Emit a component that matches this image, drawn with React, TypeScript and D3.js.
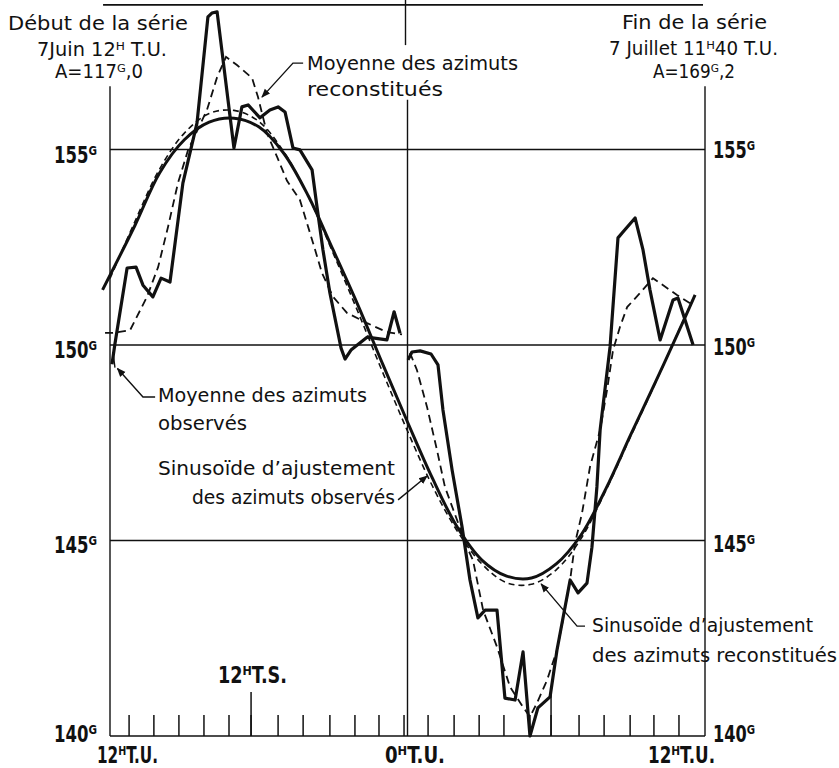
import React from "react";
import * as d3 from "d3";

// hours after 7 June 12h T.U. (0..24) , azimuth in grades
const observedDay: [number, number][] = [
  [0.08, 149.51], [0.2, 150.03], [0.69, 151.97], [1.05, 151.99], [1.33, 151.53], [1.73, 151.23],
  [2.06, 151.71], [2.42, 151.61], [2.94, 154.14], [3.51, 155.68], [3.95, 158.39], [4.11, 158.49],
  [4.32, 158.52], [5.0, 155.04], [5.32, 156.09], [5.57, 156.14], [6.05, 155.81], [6.45, 156.01],
  [6.78, 156.09], [7.06, 155.96], [7.38, 155.04], [7.66, 154.99], [8.15, 154.48], [8.35, 153.53],
  [8.59, 152.43], [8.87, 151.33], [9.32, 149.92], [9.48, 149.64], [9.72, 149.87], [10.37, 150.2],
  [11.17, 150.13], [11.46, 150.85], [11.7, 150.3],
];
const observedNight: [number, number][] = [
  [12.02, 149.62], [12.18, 149.82], [12.51, 149.85], [12.95, 149.77], [13.23, 149.49], [13.43, 148.34],
  [13.8, 146.8], [14.2, 145.35], [14.52, 143.99], [14.84, 143.02], [15.13, 143.22], [15.61, 143.22],
  [15.93, 140.97], [16.34, 140.92], [16.66, 142.15], [16.94, 140.0], [17.26, 140.72], [17.75, 141.0],
  [18.03, 142.2], [18.56, 143.99], [18.88, 143.66], [19.24, 143.91], [19.44, 144.83], [19.64, 146.37],
  [19.77, 147.83], [20.17, 149.95], [20.49, 152.74], [20.69, 152.89], [21.18, 153.25], [21.5, 152.43],
  [21.78, 151.41], [22.19, 150.13], [22.71, 151.15], [22.91, 151.2], [23.52, 150.0],
];
const reconDay: [number, number][] = [
  [-0.2, 150.31], [0.12, 150.31], [0.81, 150.38], [1.49, 151.23], [1.94, 151.99], [2.34, 153.02],
  [2.74, 154.14], [3.15, 154.99], [3.91, 156.01], [4.32, 156.85], [4.68, 157.37], [5.12, 157.16],
  [5.73, 156.83], [5.97, 156.34], [6.33, 155.42], [6.74, 154.81], [7.14, 154.2], [7.66, 153.71],
  [8.19, 152.61], [8.55, 151.84], [9.0, 151.23], [9.56, 150.82], [10.37, 150.56], [11.17, 150.33],
  [11.78, 150.27],
];
const reconNight: [number, number][] = [
  [12.1, 149.8], [12.38, 149.36], [12.79, 148.41], [13.19, 147.31], [13.51, 146.37], [14.0, 145.52],
  [14.4, 144.83], [14.64, 144.5], [15.05, 143.22], [15.61, 142.28], [16.14, 141.25], [16.66, 140.74],
  [16.94, 140.49], [17.22, 140.84], [17.63, 141.43], [18.03, 142.2], [18.27, 142.97], [18.56, 143.99],
  [18.76, 144.94], [19.04, 145.7], [19.36, 146.88], [19.77, 147.83], [20.05, 148.85], [20.29, 149.87],
  [20.57, 150.46], [20.86, 150.97], [21.38, 151.33], [21.9, 151.71], [22.87, 151.28], [23.52, 151.02],
];
const sineObserved: [number, number][] = [
  [-0.3, 151.41], [1, 153.05], [2, 154.4], [3, 155.25], [4, 155.7], [5, 155.8], [6, 155.58],
  [7, 154.91], [8, 153.81], [9, 152.43], [10, 151.02], [11, 149.51], [12, 148.03], [13, 146.6],
  [14, 145.35], [15, 144.5], [16, 144.09], [17, 144.04], [18, 144.4], [19, 145.14], [20, 146.32],
  [21, 147.7], [22, 149.05], [23, 150.43], [23.6, 151.28],
];
const sineRecon: [number, number][] = [
  [0, 151.7], [1, 153.15], [2, 154.5], [3, 155.42], [4, 155.92], [5, 156.0], [6, 155.72],
  [7, 154.95], [8, 153.8], [9, 152.35], [10, 150.85], [11, 149.3], [12, 147.8], [13, 146.4],
  [14, 145.25], [15, 144.4], [16, 143.92], [17, 143.88], [18, 144.25], [19, 145.05], [20, 146.28],
  [21, 147.66], [22, 149.03], [23, 150.45], [23.55, 151.22],
];
const gridValues = [155, 150, 145];
const yTickLabels = ["155ᴳ", "150ᴳ", "145ᴳ", "140ᴳ"];
const yTickValues = [155, 150, 145, 140];
const xTickLabels = ["12ᴴT.U.", "0ᴴT.U.", "12ᴴT.U."];
const solarLabel = "12ᴴT.S.";
// true-solar-time hour ticks, in T.U. hours
const tsTicks = [0.77, 1.77, 2.78, 3.79, 4.8, 5.69, 6.78, 7.79, 8.87, 9.88, 10.85, 11.86, 12.83,
  13.88, 14.89, 15.89, 16.94, 17.79, 18.92, 19.93, 20.98, 21.94, 22.95];
const tsMainTicks = [5.69, 17.79];

const x = d3.scaleLinear().domain([0, 24]).range([110, 705]);
const y = d3.scaleLinear().domain([140, 155]).range([736, 149.5]);

const lin = d3.line<[number, number]>().x((d) => x(d[0])).y((d) => y(d[1]));
const smooth = d3
  .line<[number, number]>()
  .x((d) => x(d[0]))
  .y((d) => y(d[1]))
  .curve(d3.curveCatmullRom.alpha(0.5));

const INK = "#111";
const FONT = "'DejaVu Sans', 'Noto Sans', sans-serif";
const BOLD = "'DejaVu Sans Condensed', 'DejaVu Sans', sans-serif";

function T(props: { x: number; y: number; len: number; children: React.ReactNode }) {
  return (
    <text x={props.x} y={props.y} textLength={props.len} lengthAdjust="spacingAndGlyphs"
      fontFamily={FONT} fontSize={19} fill={INK}>
      {props.children}
    </text>
  );
}

function B(props: { x: number; y: number; len: number; children: React.ReactNode }) {
  return (
    <text x={props.x} y={props.y} textLength={props.len} lengthAdjust="spacingAndGlyphs"
      fontFamily={BOLD} fontWeight="bold" fontSize={23} fill={INK}>
      {props.children}
    </text>
  );
}

export default function App() {
  const leftBase = [163, 358, 553, 742];
  const rightBase = [158, 355, 552, 742];
  const xLabelPos = [
    { x: 97, len: 61 },
    { x: 385, len: 60 },
    { x: 648, len: 67 },
  ];
  return (
    <svg width={839} height={768} viewBox="0 0 839 768"
      style={{ position: "absolute", left: 0, top: 0, background: "#fff" }}>
      <defs>
        <marker id="arr" viewBox="0 0 10 10" refX="9" refY="5" markerWidth="9" markerHeight="9"
          markerUnits="userSpaceOnUse" orient="auto">
          <path d="M0,1 L10,5 L0,9 Z" fill={INK} />
        </marker>
      </defs>
      <rect x={0} y={0} width={839} height={768} fill="#fff" />

      {/* frame */}
      <line x1={x(-0.28)} x2={x(23.92)} y1={y(158.7)} y2={y(158.7)} stroke={INK} strokeWidth={1.6} />
      <line x1={x(0)} x2={x(0)} y1={y(156.62)} y2={y(140)} stroke={INK} strokeWidth={1.4} />
      <line x1={x(24)} x2={x(24)} y1={y(156.62)} y2={y(140)} stroke={INK} strokeWidth={1.4} />
      <line x1={x(12) - 2} x2={x(12) - 2} y1={0} y2={y(157.67)} stroke={INK} strokeWidth={1.4} />
      <line x1={x(12)} x2={x(12)} y1={y(156.27)} y2={y(140)} stroke={INK} strokeWidth={1.4} />
      {gridValues.map((v) => (
        <line key={v} x1={x(0)} x2={x(24)} y1={y(v)} y2={y(v)} stroke={INK} strokeWidth={1.3} />
      ))}
      <line x1={x(0)} x2={x(24)} y1={y(140)} y2={y(140)} stroke={INK} strokeWidth={1.6} />

      {/* solar-time ticks */}
      {tsTicks.map((t) => (
        <line key={t} x1={x(t)} x2={x(t)} y1={y(140) - 21} y2={y(140)} stroke={INK} strokeWidth={1.5} />
      ))}
      {tsMainTicks.map((t) => (
        <line key={"m" + t} x1={x(t)} x2={x(t)} y1={y(140) - 44} y2={y(140)} stroke={INK} strokeWidth={1.5} />
      ))}

      {/* curves */}
      <path d={smooth(sineObserved) ?? ""} fill="none" stroke={INK} strokeWidth={3} />
      <path d={smooth(sineRecon) ?? ""} fill="none" stroke={INK} strokeWidth={1.6} strokeDasharray="6 4" />
      <path d={lin(reconDay) ?? ""} fill="none" stroke={INK} strokeWidth={1.8} strokeDasharray="8 5" />
      <path d={lin(reconNight) ?? ""} fill="none" stroke={INK} strokeWidth={1.8} strokeDasharray="8 5" />
      <path d={lin(observedDay) ?? ""} fill="none" stroke={INK} strokeWidth={3.2} strokeLinejoin="round" />
      <path d={lin(observedNight) ?? ""} fill="none" stroke={INK} strokeWidth={3.2} strokeLinejoin="round" />

      {/* leaders */}
      <path d={lin([[7.79, 157.21], [7.38, 157.21], [6.13, 156.34]]) ?? ""} fill="none" stroke={INK}
        strokeWidth={1.4} markerEnd="url(#arr)" />
      <path d={lin([[1.82, 148.67], [1.33, 148.67], [0.3, 149.4]]) ?? ""} fill="none" stroke={INK}
        strokeWidth={1.4} markerEnd="url(#arr)" />
      <path d={lin([[0.2, 149.42], [0.12, 149.82]]) ?? ""} fill="none" stroke={INK} strokeWidth={1.4} />
      <path d={lin([[11.62, 146.04], [12.79, 146.65]]) ?? ""} fill="none" stroke={INK}
        strokeWidth={1.4} markerEnd="url(#arr)" />
      <path d={lin([[19.16, 142.81], [18.84, 142.81], [17.39, 143.89]]) ?? ""} fill="none" stroke={INK}
        strokeWidth={1.4} markerEnd="url(#arr)" />

      {/* axis labels */}
      {yTickValues.map((v, i) => (
        <B key={"l" + v} x={54} y={leftBase[i]} len={43}>{yTickLabels[i]}</B>
      ))}
      {yTickValues.map((v, i) => (
        <B key={"r" + v} x={713} y={rightBase[i]} len={42}>{yTickLabels[i]}</B>
      ))}
      {xTickLabels.map((t, i) => (
        <B key={"x" + i} x={xLabelPos[i].x} y={763} len={xLabelPos[i].len}>{t}</B>
      ))}
      <B x={218} y={683} len={69}>{solarLabel}</B>

      {/* header texts */}
      <T x={8} y={30} len={180}>Début de la série</T>
      <T x={37} y={56} len={130}>7Juin 12ᴴ T.U.</T>
      <T x={55} y={78} len={88}>A=117ᴳ,0</T>
      <T x={622} y={29} len={145}>Fin de la série</T>
      <T x={609} y={55} len={169}>7 Juillet 11ᴴ40 T.U.</T>
      <T x={653} y={78} len={82}>A=169ᴳ,2</T>

      {/* annotations */}
      <T x={307} y={70} len={211}>Moyenne des azimuts</T>
      <T x={307} y={96} len={136}>reconstitués</T>
      <T x={158} y={402} len={209}>Moyenne des azimuts</T>
      <T x={158} y={430} len={89}>observés</T>
      <T x={158} y={475} len={237}>Sinusoïde d’ajustement</T>
      <T x={192} y={504} len={203}>des azimuts observés</T>
      <T x={592} y={632} len={221}>Sinusoïde d’ajustement</T>
      <T x={592} y={662} len={245}>des azimuts reconstitués</T>
    </svg>
  );
}
